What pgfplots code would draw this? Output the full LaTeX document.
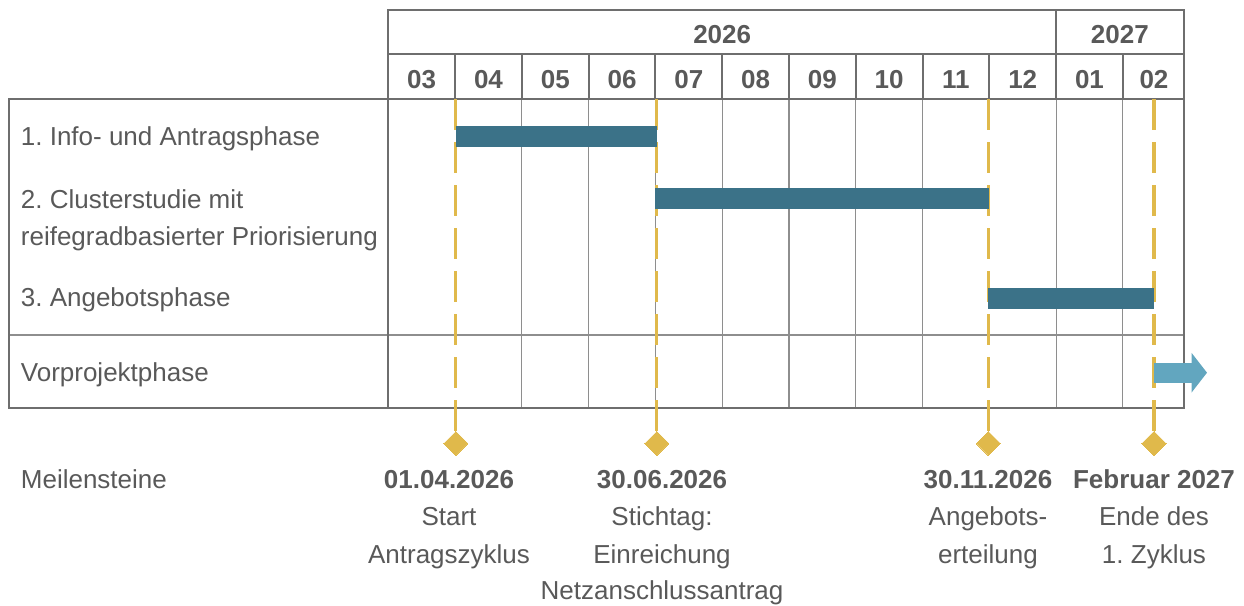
\documentclass[border=0pt]{standalone}
\usepackage{fontspec}
\setmainfont{Liberation Sans}
\usepackage{pgfplots}
\pgfplotsset{compat=1.18}
\usetikzlibrary{arrows.meta}
\definecolor{txt}{HTML}{595959}
\definecolor{barc}{HTML}{3B7288}
\definecolor{arrc}{HTML}{62A6BF}
\definecolor{gold}{HTML}{E0B94B}
\definecolor{gridd}{HTML}{6E6E6E}
\definecolor{gridl}{HTML}{8E8E8E}
\newcommand\fs{\fontsize{26}{30}\selectfont}
\frenchspacing
\tikzset{t/.style={inner sep=0pt, text=txt, font=\fs}, tb/.style={inner sep=0pt, text=txt, font=\fs\bfseries}}
\begin{document}
\begin{tikzpicture}
\begin{axis}[
  width=1244pt, height=605pt, scale only axis,
  xmin=-5.815, xmax=12.814, ymin=0, ymax=605, y dir=reverse,
  hide axis, clip=false,
]
\path (rel axis cs:0,0) rectangle (rel axis cs:1,1);
% ---- table body grid (no line under the milestone dashes at 04 and 12)
\foreach \k in {2,3,4,5,6,7,8,10,11}{
  \edef\tmp{\noexpand\draw[gridl, line width=1.2pt] (axis cs:\k,99) -- (axis cs:\k,408.3);}\tmp
}
\draw[gridl, line width=1.5pt] (axis cs:-5.675,335) -- (axis cs:11.911,335);
\draw[gridd, line width=2pt] (axis cs:0,99.3) -- (axis cs:0,408.3);
\draw[gridd, line width=2pt] (axis cs:-5.675,99.3) rectangle (axis cs:11.911,408.3);
% ---- header grid
\draw[gridd, line width=2pt] (axis cs:0,9.5) rectangle (axis cs:11.911,99.3);
\draw[gridd, line width=2pt] (axis cs:0,54) -- (axis cs:11.911,54);
\draw[gridd, line width=2pt] (axis cs:10,9.5) -- (axis cs:10,54);
\foreach \k in {1,...,11}{
  \edef\tmp{\noexpand\draw[gridd, line width=2pt] (axis cs:\k,54) -- (axis cs:\k,99.3);}\tmp
}
% ---- header labels
\node[tb, anchor=base] at (axis cs:5.0,43.3) {2026};
\node[tb, anchor=base] at (axis cs:10.955,43.3) {2027};
\foreach \x/\m in {0.5/03,1.5/04,2.5/05,3.5/06,4.5/07,5.5/08,6.5/09,7.5/10,8.5/11,9.5/12,10.5/01,11.466/02}{
  \edef\tmp{\noexpand\node[tb, anchor=base] at (axis cs:\x,88.3) {\m};}\tmp
}
% ---- row labels
\node[t, anchor=base west] at (axis cs:-5.505,145) {1. Info- und Antragsphase};
\node[t, anchor=base west] at (axis cs:-5.505,208.3) {2. Clusterstudie mit};
\node[t, anchor=base west] at (axis cs:-5.505,245) {reifegradbasierter Priorisierung};
\node[t, anchor=base west] at (axis cs:-5.505,306.7) {3. Angebotsphase};
\node[t, anchor=base west] at (axis cs:-5.505,381.7) {Vorprojektphase};
\node[t, anchor=base west] at (axis cs:-5.505,488.3) {Meilensteine};
% ---- milestone lines
\addplot[gold, line width=3.3pt, dash pattern=on 31pt off 12pt] coordinates {(1.01,99.3) (1.01,443.5)};
\addplot[gold, line width=3.3pt, dash pattern=on 31pt off 12pt] coordinates {(4.02,99.3) (4.02,443.5)};
\addplot[gold, line width=3.3pt, dash pattern=on 31pt off 12pt] coordinates {(8.985,99.3) (8.985,443.5)};
\addplot[gold, line width=3.3pt, dash pattern=on 31pt off 12pt] coordinates {(11.466,99.3) (11.466,443.5)};
% ---- bars
\addplot[barc, line width=21pt] coordinates {(1.01,136.5) (4.03,136.5)};
\addplot[barc, line width=21pt] coordinates {(3.995,198.5) (8.99,198.5)};
\addplot[barc, line width=21pt] coordinates {(8.98,298.3) (11.466,298.3)};
% ---- arrow
\addplot[arrc, line width=20pt, -{Triangle[width=39pt,length=15.5pt]}] coordinates {(11.466,372.7) (12.26,372.7)};
% ---- milestones
\addplot[only marks, mark=square*, mark size=8.5pt, mark options={rotate=45, fill=gold, draw=gold, line width=0pt}] coordinates {(1.01,443.5) (4.02,443.5) (8.985,443.5) (11.466,443.5)};
% ---- milestone labels
\node[tb, anchor=base] at (axis cs:0.909,488.3) {01.04.2026};
\node[t, anchor=base] at (axis cs:0.909,525.5) {Start};
\node[t, anchor=base] at (axis cs:0.909,563) {Antragszyklus};
\node[tb, anchor=base] at (axis cs:4.099,488.3) {30.06.2026};
\node[t, anchor=base] at (axis cs:4.099,525.5) {Stichtag:};
\node[t, anchor=base] at (axis cs:4.099,563) {Einreichung};
\node[t, anchor=base] at (axis cs:4.099,599.5) {Netzanschlussantrag};
\node[tb, anchor=base] at (axis cs:8.98,488.3) {30.11.2026};
\node[t, anchor=base] at (axis cs:8.98,525.5) {Angebots-};
\node[t, anchor=base] at (axis cs:8.98,563) {erteilung};
\node[tb, anchor=base] at (axis cs:11.466,488.3) {Februar 2027};
\node[t, anchor=base] at (axis cs:11.466,525.5) {Ende des};
\node[t, anchor=base] at (axis cs:11.466,563) {1. Zyklus};
\end{axis}
\end{tikzpicture}
\end{document}
